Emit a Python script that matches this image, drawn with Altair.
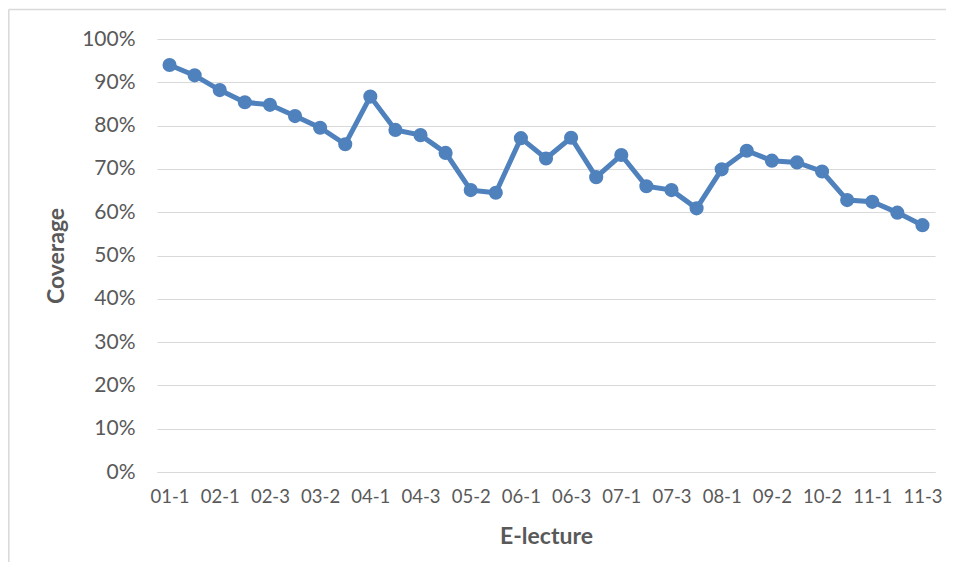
import altair as alt
import pandas as pd

lectures = ["01-1", "01-2", "02-1", "02-2", "02-3", "03-1", "03-2", "03-3",
            "04-1", "04-2", "04-3", "05-1", "05-2", "05-3", "06-1", "06-2",
            "06-3", "06-4", "07-1", "07-2", "07-3", "07-4", "08-1", "09-1",
            "09-2", "10-1", "10-2", "10-3", "11-1", "11-2", "11-3"]
coverage = [94.0, 91.6, 88.2, 85.4, 84.8, 82.2, 79.5, 75.7,
            86.7, 79.0, 77.8, 73.7, 65.1, 64.5, 77.1, 72.4,
            77.2, 68.1, 73.2, 66.0, 65.1, 60.9, 69.9, 74.2,
            71.9, 71.5, 69.4, 62.8, 62.4, 59.9, 57.0]
shown_labels = lectures[::2]

df = pd.DataFrame({"lecture": lectures, "coverage": [c / 100 for c in coverage]})

W, H = 778, 433
PAD = {"left": 149, "top": 31, "right": 11, "bottom": 90}
FONT = "Lato"
BLUE = "#4f81bd"

x = alt.X("lecture:N", sort=lectures,
          scale=alt.Scale(type="point", padding=0.5),
          axis=alt.Axis(title="E-lecture", values=shown_labels, labelAngle=0,
                        ticks=False, grid=False, domainColor="#d9d9d9", domainWidth=1,
                        labelPadding=15, labelFontSize=18.5, labelColor="#595959",
                        labelFont=FONT, titleFont=FONT, titleFontSize=23,
                        titleFontWeight="bold", titleColor="#595959",
                        titlePadding=20))
y = alt.Y("coverage:Q",
          scale=alt.Scale(domain=[0, 1], nice=False),
          axis=alt.Axis(title="Coverage", format=".0%", values=[i / 10 for i in range(11)],
                        ticks=False, domain=False, gridColor="#d9d9d9", gridWidth=1,
                        labelPadding=22, labelFontSize=21, labelColor="#595959",
                        labelFont=FONT, titleFont=FONT, titleFontSize=23,
                        titleFontWeight="bold", titleColor="#595959",
                        titlePadding=13))

one = pd.DataFrame({"a": [0]})
frame_left = alt.Chart(one).mark_rule(color="#d9d9d9", strokeWidth=1.5).encode(
    x=alt.value(-148.2), y=alt.value(-29.5), y2=alt.value(H + PAD["bottom"]))
frame_top = alt.Chart(one).mark_rule(color="#d9d9d9", strokeWidth=1.5).encode(
    x=alt.value(-148.2), x2=alt.value(W + PAD["right"]), y=alt.value(-29.5))

line = alt.Chart(df).mark_line(color=BLUE, strokeWidth=5).encode(x=x, y=y)
pts = alt.Chart(df).mark_circle(color=BLUE, opacity=1, size=200).encode(x=x, y=y)

chart = alt.layer(frame_left, frame_top, line, pts).properties(
    width=W, height=H,
    autosize=alt.AutoSizeParams(type="none"),
    padding=PAD,
    background="transparent",
).configure_view(stroke=None)

chart.save("out.html", embed_options={"renderer": "svg", "actions": False})
